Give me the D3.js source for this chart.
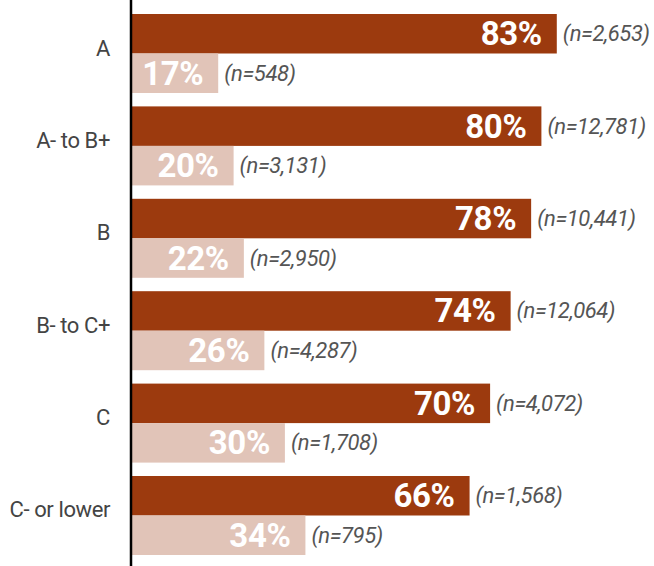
<!DOCTYPE html>
<html>
<head>
<meta charset="utf-8">
<script src="https://cdn.jsdelivr.net/npm/d3@7"></script>
<style>
  body { margin: 0; background: #fff; }
  svg { display: block; }
  text { font-family: Roboto, "Liberation Sans", sans-serif; }
</style>
</head>
<body>
<svg width="654" height="566"></svg>
<script>
// grade groups, top to bottom
var grades = ["A", "A- to B+", "B", "B- to C+", "C", "C- or lower"];
var series = ["yes", "no"];
var yesPct = [83, 80, 78, 74, 70, 66];
var noPct  = [17, 20, 22, 26, 30, 34];
var yesN = ["2,653", "12,781", "10,441", "12,064", "4,072", "1,568"];
var noN  = ["548", "3,131", "2,950", "4,287", "1,708", "795"];

var colors = { yes: "#9c3a0e", no: "#e1c4b8" };

var svg = d3.select("svg");
var W = 654, H = 566;

var x = d3.scaleLinear().domain([0, 100]).range([131, 644]);
var y = d3.scaleBand().domain(grades).range([14, 555]).paddingInner(0.145).paddingOuter(0);
var ySub = d3.scaleBand().domain(series).range([0, y.bandwidth()]);

var rows = [];
grades.forEach(function(g, i){
    rows.push({ grade: g, s: "yes", pct: yesPct[i], n: yesN[i] });
    rows.push({ grade: g, s: "no", pct: noPct[i], n: noN[i] });
});

var bars = svg.append("g").selectAll("g")
    .data(rows)
    .enter().append("g")
    .attr("transform", function(d){ return "translate(0," + (y(d.grade) + ySub(d.s)) + ")"; });

bars.append("rect")
    .attr("x", x(0))
    .attr("y", 0)
    .attr("width", function(d){ return x(d.pct) - x(0); })
    .attr("height", ySub.bandwidth())
    .attr("fill", function(d){ return colors[d.s]; });

var mid = ySub.bandwidth() / 2;

bars.append("text")
    .attr("x", function(d){ return x(d.pct) - 15; })
    .attr("y", mid + 11.5)
    .attr("text-anchor", "end")
    .attr("fill", "#fff")
    .attr("font-weight", "bold")
    .attr("font-size", 33)
    .attr("letter-spacing", -0.4)
    .text(function(d){ return d.pct + "%"; });

bars.append("text")
    .attr("x", function(d){ return x(d.pct) + 6; })
    .attr("y", mid + 7.5)
    .attr("fill", "#555")
    .attr("font-style", "italic")
    .attr("font-size", 22)
    .attr("letter-spacing", -0.4)
    .text(function(d){ return "(n=" + d.n + ")"; });

// category labels
svg.append("g").selectAll("text")
    .data(grades)
    .enter().append("text")
    .attr("x", 110)
    .attr("y", function(d){ return y(d) + y.bandwidth() / 2 + 2; })
    .attr("text-anchor", "end")
    .attr("fill", "#444")
    .attr("font-size", 22)
    .attr("letter-spacing", -0.4)
    .text(function(d){ return d; });

// vertical axis line
svg.append("line")
    .attr("x1", 131).attr("x2", 131)
    .attr("y1", 0).attr("y2", H)
    .attr("stroke", "#000")
    .attr("stroke-width", 2.5);
</script>
</body>
</html>
